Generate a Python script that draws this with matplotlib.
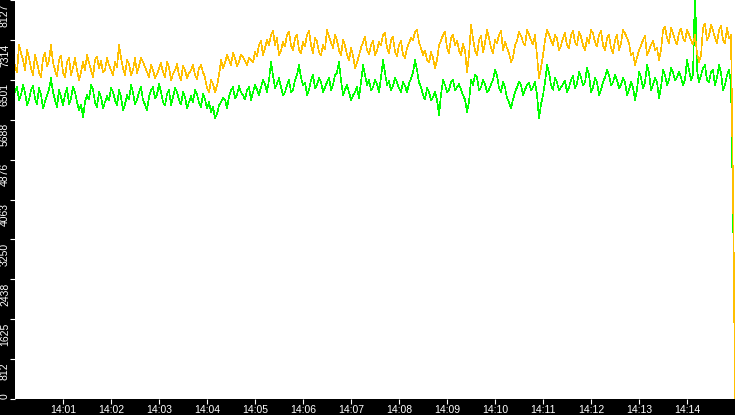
import matplotlib
matplotlib.use("Agg")
import matplotlib.pyplot as plt
from matplotlib.transforms import ScaledTranslation

# ---- data: samples at 14:00:00 + 5 s * i ----
orange_vals = [
    6800, 7208, 6902, 7106, 6739, 7004, 6657, 6943, 6779, 7208,
    6698, 6902, 6657, 6861, 6596, 6943, 6494, 6861, 7004, 6698,
    6902, 6739, 6657, 6943, 6698, 6861, 7208, 6739, 6902, 6596,
    6943, 6779, 6861, 6657, 6800, 6534, 6739, 6657, 6861, 6494,
    6698, 6596, 6779, 6534, 6698, 6596, 6739, 6657, 6330, 6494,
    6249, 6596, 6739, 7004, 6800, 6943, 6861, 6963, 6800, 6902,
    7065, 7208, 7004, 7310, 7412, 7208, 7004, 7270, 7412, 7208,
    7351, 7106, 7270, 7412, 7208, 7351, 7065, 7208, 7515, 7270,
    7412, 7106, 7310, 7004, 7147, 6739, 7004, 7270, 7106, 7208,
    7004, 7270, 7412, 7147, 7310, 7065, 7208, 7004, 7147, 7351,
    7474, 7270, 7004, 6902, 7065, 6739, 7208, 7412, 7147, 7351,
    7208, 7106, 7229, 6657, 7617, 7106, 7310, 7065, 7515, 7147,
    7310, 7412, 7106, 7147, 6861, 7208, 7474, 7270, 7515, 7310,
    7412, 6534, 7004, 7515, 7310, 7412, 7106, 7351, 7208, 7412,
    7270, 7474, 7208, 7351, 7515, 7270, 7412, 7208, 7351, 7147,
    7310, 7106, 7515, 7351, 7004, 6800, 7106, 7310, 7004, 7208,
    7106, 6902, 7515, 7351, 7555, 7310, 7453, 7351, 7515, 7310,
    7412, 6861, 7555, 7310, 7617, 7351, 7515, 7310, 7555, 7412,
]
# samples halfway between (14:00:02.5 + 5 s * i)
orange_mid = [
    6650, 7050, 6700, 6950, 6600, 6850, 6550, 7050, 6900, 6850,
    6580, 7000, 6550, 6950, 6750, 6700, 6650, 6700, 6850, 6560,
    6980, 6880, 6700, 6800, 6600, 6750, 6950, 6600, 6820, 6700,
    6640, 6950, 6760, 6560, 6700, 6620, 6840, 6560, 6750, 6620,
    6820, 6500, 6700, 6640, 6800, 6520, 6800, 6550, 6250, 6420,
    6380, 6900, 6850, 6900, 7050, 6780, 7020, 6880, 6950, 6850,
    6980, 7300, 7150, 7200, 7500, 7350, 7100, 7180, 7480, 7100,
    7420, 7050, 7180, 7500, 7050, 7280, 7000, 7120, 7380, 7150,
    7300, 7000, 7200, 6900, 7000, 6850, 7150, 7380, 7020, 7300,
    7100, 7200, 7450, 7050, 7380, 6980, 7300, 6950, 7250, 7300,
    7520, 7150, 7100, 6850, 6950, 6900, 7300, 7480, 7050, 7420,
    7300, 7000, 7100, 7000, 7350, 7000, 7400, 7250, 7350, 7050,
    7250, 7500, 7280, 7050, 6950, 7300, 7400, 7200, 7420, 7220,
    7000, 6750, 7300, 7420, 7200, 7350, 7200, 7450, 7150, 7500,
    7200, 7380, 7100, 7250, 7450, 7180, 7500, 7100, 7420, 7050,
    7420, 7250, 7450, 7250, 7050, 6950, 7200, 7400, 7100, 7300,
    7150, 7100, 7580, 7250, 7450, 7220, 7550, 7280, 7420, 7220,
    7050, 7000, 7650, 7400, 7500, 7250, 7600, 7250, 7350,
]
orange_tail = [3650, 0]          # last samples (14:14:58, 14:15:00)

green_vals = [
    6249, 6085, 6391, 5983, 6289, 6126, 6330, 5922, 6187, 6534,
    6085, 6289, 5983, 6330, 6126, 6249, 5881, 5738, 6187, 6391,
    6044, 6249, 5922, 6167, 6330, 6085, 6289, 5881, 6187, 6391,
    6003, 6249, 6085, 5881, 6289, 6126, 6412, 6044, 6208, 5983,
    6330, 6085, 6249, 5922, 6167, 6289, 6044, 6208, 5922, 5840,
    5718, 5983, 6126, 5922, 6289, 6126, 6371, 6187, 6289, 6085,
    6391, 6187, 6494, 6249, 6861, 6330, 6534, 6187, 6391, 6249,
    6494, 6800, 6391, 6187, 6494, 6330, 6534, 6249, 6453, 6289,
    6596, 6861, 6187, 6391, 6085, 6249, 6126, 6800, 6391, 6289,
    6494, 6249, 6902, 6391, 6289, 6534, 6330, 6453, 6249, 6534,
    6902, 6453, 6187, 6330, 6085, 6249, 5779, 6494, 6249, 6453,
    6289, 6412, 6187, 5840, 6494, 6596, 6289, 6494, 6249, 6412,
    6698, 6330, 6453, 6126, 5922, 6249, 6453, 6187, 6391, 6289,
    6453, 5718, 6187, 6800, 6391, 6534, 6289, 6412, 6249, 6494,
    6330, 6657, 6391, 6739, 6249, 6534, 6187, 6453, 6698, 6391,
    6596, 6330, 6534, 6187, 6453, 6085, 6657, 6330, 6800, 6289,
    6534, 6126, 6698, 6391, 6739, 6494, 6657, 6391, 6902, 6494,
    8331, 6453, 6739, 6494, 6657, 6391, 6800, 6289, 6596, 6453,
]
green_mid = [
    6350, 6200, 6250, 6100, 6380, 6000, 6200, 6050, 6300, 6250,
    5950, 6150, 6200, 6000, 6350, 6050, 6000, 6050, 6100, 6300,
    5950, 6150, 6050, 6080, 6250, 5980, 6150, 6000, 6100, 6250,
    6100, 6350, 6000, 6150, 6350, 6200, 6250, 5980, 6300, 6150,
    6250, 6000, 6150, 6050, 6050, 6200, 5950, 6100, 6050, 5950,
    5800, 6050, 6100, 6150, 6350, 6200, 6250, 6100, 6350, 6250,
    6300, 6350, 6420, 6500, 6600, 6420, 6350, 6250, 6500, 6300,
    6600, 6550, 6450, 6300, 6600, 6400, 6450, 6350, 6550, 6400,
    6650, 6500, 6300, 6250, 6180, 6350, 6450, 6600, 6500, 6350,
    6420, 6550, 6650, 6480, 6380, 6450, 6250, 6380, 6420, 6650,
    6700, 6350, 6100, 6250, 6150, 6100, 6200, 6400, 6300, 6500,
    6350, 6300, 6100, 6050, 6400, 6550, 6350, 6420, 6300, 6500,
    6600, 6250, 6350, 6050, 6100, 6350, 6400, 6300, 6450, 6350,
    6200, 6000, 6450, 6650, 6300, 6450, 6350, 6480, 6350, 6580,
    6420, 6550, 6450, 6600, 6350, 6450, 6300, 6550, 6600, 6450,
    6500, 6400, 6450, 6300, 6350, 6300, 6550, 6450, 6650, 6400,
    6450, 6350, 6600, 6500, 6650, 6550, 6550, 6500, 6700, 6600,
    6700, 6600, 6800, 6450, 6700, 6550, 6650, 6400, 6700,
]
green_tail = [3270]              # last sample (14:14:58)

x_ticks = [60 * m for m in range(1, 15)]   # seconds after 14:00
x_labels = ["14:01", "14:02", "14:03", "14:04", "14:05", "14:06", "14:07",
            "14:08", "14:09", "14:10", "14:11", "14:12", "14:13", "14:14"]
y_ticks = [0, 812, 1625, 2438, 3250, 4063, 4876, 5688, 6501, 7314, 8127]
y_labels = ["0", "812", "1625", "2438", "3250", "4063", "4876", "5688",
            "6501", "7314", "8127"]


def interleave(main, mid):
    out = []
    for k, v in enumerate(main):
        out.append(v)
        if k < len(mid):
            out.append(mid[k])
    return out


orange_series = interleave(orange_vals, orange_mid) + orange_tail
green_series = interleave(green_vals, green_mid) + green_tail
t_main = [2.5 * k for k in range(2 * len(orange_vals) - 1)]
t_orange = t_main + [898, 900]
t_green = t_main + [898]

# ---- figure ----
W, H = 735, 415
fig = plt.figure(figsize=(W / 100, H / 100), dpi=100, facecolor="black")
ax = fig.add_axes([15 / W, 16 / H, 720 / W, 399 / H])
ax.set_facecolor("white")
for s in ax.spines.values():
    s.set_visible(False)

ax.plot(t_green, green_series, color="#00ff00", lw=0.45, antialiased=False)
ax.plot(t_orange, orange_series, color="#ffbf00", lw=0.45, antialiased=False)

ax.set_xlim(0, 900)
ax.set_ylim(0, 8127)

font = dict(family="Liberation Sans", size=7.5, color="white")

ax.set_xticks(x_ticks)
ax.set_xticklabels(x_labels, **font)
ax.tick_params(axis="x", direction="out", length=3.6, width=0.8,
               color="white", pad=0.8)

ax.set_yticks(y_ticks)
ax.set_yticklabels([])
ax.tick_params(axis="y", direction="out", length=3.6, width=0.8,
               color="white")

ytrans = ax.get_yaxis_transform()
for v, lab in zip(y_ticks, y_labels):
    if v == 0:
        off = ScaledTranslation(-0.10, 0.0, fig.dpi_scale_trans)
        va = "bottom"
    else:
        off = ScaledTranslation(-0.10, -0.035, fig.dpi_scale_trans)
        va = "top"
    ax.text(0, v, lab, transform=ytrans + off, rotation=90,
            ha="center", va=va, clip_on=False, **font)

fig.savefig("out.png", dpi=100, facecolor="black")
